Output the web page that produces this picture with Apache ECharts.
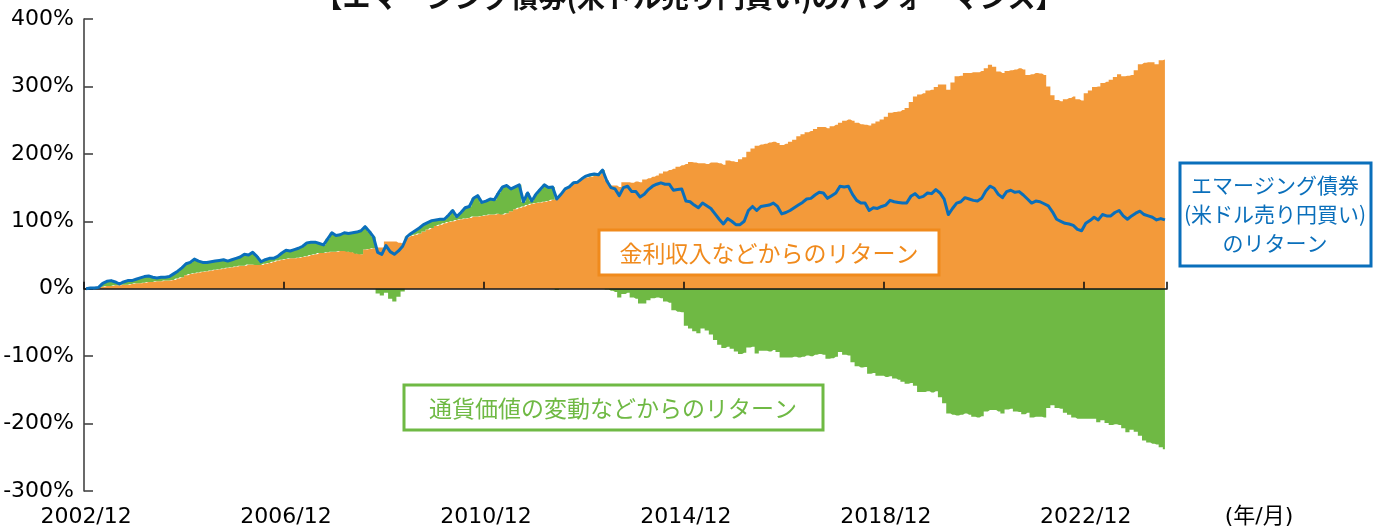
<!DOCTYPE html>
<html>
<head>
<meta charset="utf-8">
<script src="https://cdn.jsdelivr.net/npm/echarts@6/dist/echarts.min.js"></script>
<style>
  html, body { margin: 0; padding: 0; background: #fff; }
  #main { width: 1373px; height: 529px; }
</style>
</head>
<body>
<div id="main"></div>
<script>
// 月次 2002/12 ～ 2024/07
var startYear = 2002, startMonth = 12, monthCount = 260;
var months = [];
for (var i = 0; i < monthCount; i++) {
  var m = startMonth - 1 + i;
  months.push((startYear + Math.floor(m / 12)) + '/' + ((m % 12) + 1));
}
var tickLabels = ['2002/12', '2006/12', '2010/12', '2014/12', '2018/12', '2022/12'];

// 金利収入などからのリターン(%)
var interestReturn = [
  0, 0, 1, 2, 3, 4, 4, 5, 5, 6, 6, 7,
  8, 8, 9, 10, 10, 11, 11, 12, 12, 13, 15, 17,
  20, 22, 23, 24, 25, 26, 27, 28, 29, 30, 31, 32,
  33, 34, 34, 36, 36, 35, 35, 37, 38, 40, 42, 43,
  44, 45, 45, 46, 47, 48, 50, 51, 53, 53, 54, 55,
  55, 56, 56, 55, 54, 52, 51, 58, 59, 60, 61, 61,
  70, 70, 70, 68, 67, 76, 78, 80, 82, 85, 88, 90,
  93, 95, 97, 99, 100, 102, 103, 104, 105, 107, 107, 108,
  109, 110, 110, 111, 110, 112, 115, 118, 120, 122, 124, 126,
  127, 128, 129, 130, 132, 135, 140, 147, 151, 156, 158, 163,
  165, 166, 167, 167, 171, 161, 153, 153, 151, 158, 158, 157,
  159, 158, 162, 164, 166, 168, 171, 174, 176, 178, 181, 183,
  185, 188, 187, 186, 186, 185, 187, 187, 186, 184, 190, 189,
  188, 192, 195, 203, 208, 212, 214, 215, 217, 218, 216, 213,
  215, 218, 221, 226, 229, 232, 234, 237, 240, 240, 238, 241,
  243, 246, 249, 251, 249, 246, 244, 243, 242, 245, 248, 251,
  255, 261, 262, 263, 265, 268, 277, 285, 288, 290, 294, 295,
  299, 303, 303, 295, 306, 315, 316, 320, 320, 321, 321, 323,
  327, 332, 329, 322, 320, 323, 324, 325, 327, 325, 317, 318,
  320, 319, 317, 300, 287, 280, 278, 281, 283, 285, 281, 279,
  290, 294, 299, 300, 305, 307, 310, 314, 318, 315, 316, 317,
  324, 333, 335, 336, 336, 333, 339, 340
];

// 通貨価値の変動などからのリターン(%)
var currencyReturn = [
  0, 1, 0, 0, 5, 7, 8, 5, 2, 4, 6, 5,
  6, 8, 9, 9, 7, 5, 6, 5, 6, 9, 11, 14,
  17, 17, 21, 17, 14, 13, 13, 13, 13, 13, 10, 11,
  12, 13, 17, 14, 18, 13, 5, 6, 7, 5, 6, 10,
  13, 11, 13, 14, 16, 20, 19, 18, 14, 12, 20, 28,
  24, 24, 27, 27, 29, 32, 35, 34, 26, 17, -7, -10,
  -6, -15, -19, -12, -4, 1, 4, 6, 8, 10, 10, 11,
  9, 8, 6, 10, 16, 5, 10, 16, 17, 27, 31, 20,
  21, 23, 22, 31, 41, 41, 33, 33, 34, 7, 18, 4,
  13, 19, 25, 20, 19, -2, 0, 1, 0, 1, 0, 0,
  2, 3, 3, 2, 5, -1, -3, -5, -13, -8, -6, -13,
  -15, -22, -22, -17, -14, -13, -14, -19, -21, -32, -34, -35,
  -55, -59, -63, -66, -59, -62, -68, -76, -83, -88, -86, -89,
  -93, -97, -95, -87, -86, -96, -92, -92, -93, -91, -94, -102,
  -102, -102, -101, -102, -101, -99, -100, -98, -97, -98, -104, -103,
  -101, -94, -98, -99, -109, -115, -117, -116, -126, -125, -129, -129,
  -131, -130, -133, -135, -138, -141, -140, -144, -153, -153, -152, -154,
  -152, -161, -170, -185, -187, -188, -187, -185, -187, -190, -191, -189,
  -182, -180, -180, -182, -185, -179, -178, -182, -183, -186, -184, -191,
  -190, -190, -191, -177, -173, -177, -178, -184, -187, -191, -193, -193,
  -193, -193, -193, -198, -195, -199, -202, -201, -202, -207, -213, -209,
  -212, -218, -225, -228, -230, -231, -235, -238
];

// エマージング債券(米ドル売り円買い)のリターン(%)
var totalReturn = [
  0, 1, 1, 2, 8, 11, 12, 10, 7, 10, 12, 12,
  14, 16, 18, 19, 17, 16, 17, 17, 18, 22, 26, 31,
  37, 39, 44, 41, 39, 39, 40, 41, 42, 43, 41, 43,
  45, 47, 51, 50, 54, 48, 40, 43, 45, 45, 48, 53,
  57, 56, 58, 60, 63, 68, 69, 69, 67, 65, 74, 83,
  79, 80, 83, 82, 83, 84, 86, 92, 85, 77, 54, 51,
  64, 55, 51, 56, 63, 77, 82, 86, 90, 95, 98, 101,
  102, 103, 103, 109, 116, 107, 113, 120, 122, 134, 138, 128,
  130, 133, 132, 142, 151, 153, 148, 151, 154, 129, 142, 130,
  140, 147, 154, 150, 151, 133, 140, 148, 151, 157, 158, 163,
  167, 169, 170, 169, 176, 160, 150, 148, 138, 150, 152, 144,
  144, 136, 140, 147, 152, 155, 157, 155, 155, 146, 147, 148,
  130, 129, 124, 120, 127, 123, 119, 111, 103, 96, 104, 100,
  95, 95, 100, 116, 122, 116, 122, 123, 124, 127, 122, 111,
  113, 116, 120, 124, 128, 133, 134, 139, 143, 142, 134, 138,
  142, 152, 151, 152, 140, 131, 127, 127, 116, 120, 119, 122,
  124, 131, 129, 128, 127, 127, 137, 141, 135, 137, 142, 141,
  147, 142, 133, 110, 119, 127, 129, 135, 133, 131, 130, 134,
  145, 152, 149, 140, 135, 144, 146, 143, 144, 139, 133, 127,
  130, 129, 126, 123, 114, 103, 100, 97, 96, 94, 88, 86,
  97, 101, 106, 102, 110, 108, 108, 113, 116, 108, 103, 108,
  112, 115, 110, 108, 106, 102, 104, 102
];

var ORANGE = '#f39a3a', GREEN = '#6fb944', BLUE = '#0a6fbb';
var numFont = 'DejaVu Sans, Noto Sans CJK JP, sans-serif';
var jpFont = 'Noto Sans CJK JP, sans-serif';

function showTick(idx, val) { return tickLabels.indexOf(val) >= 0; }

// 棒の代わりに階段状の面で描く(棒の継ぎ目が出ないように)
function stepArea(name, data, color) {
  return {
    name: name, type: 'line', stack: 'ret', xAxisIndex: 0, step: 'middle',
    data: data, symbol: 'none', showSymbol: false, z: 2,
    lineStyle: { width: 0, opacity: 0 },
    areaStyle: { color: color, opacity: 1 },
    emphasis: { disabled: true }
  };
}

var chart = echarts.init(document.getElementById('main'));
chart.setOption({
  animation: false,
  backgroundColor: '#fff',
  grid: { left: 84, right: 206, top: 19, bottom: 38, containLabel: false },
  xAxis: [
    { // 下の目盛ラベル
      type: 'category', data: months, position: 'bottom', boundaryGap: true,
      axisLine: { show: false, onZero: false },
      axisTick: { show: false },
      axisLabel: { interval: showTick, color: '#000', fontSize: 22, fontFamily: numFont, margin: 15 },
      splitLine: { show: false }
    },
    { // 0%の横線
      type: 'category', data: months, position: 'top', boundaryGap: true, z: 3,
      axisLine: { show: true, onZero: true, lineStyle: { color: '#111', width: 1.6 } },
      axisTick: { show: true, interval: showTick, inside: false, length: 7, lineStyle: { color: '#111', width: 1.6 } },
      axisLabel: { show: false },
      splitLine: { show: false }
    }
  ],
  yAxis: {
    type: 'value', min: -300, max: 400, interval: 100,
    axisLine: { show: true, lineStyle: { color: '#444', width: 1.6 } },
    axisTick: { show: true, inside: true, length: 9, lineStyle: { color: '#444', width: 1.6 } },
    axisLabel: { formatter: '{value}%', color: '#000', fontSize: 22, fontFamily: numFont, margin: 10 },
    splitLine: { show: false }
  },
  series: [
    stepArea('金利収入などからのリターン', interestReturn, ORANGE),
    stepArea('通貨価値の変動などからのリターン', currencyReturn, GREEN),
    {
      name: 'エマージング債券(米ドル売り円買い)のリターン', type: 'line', xAxisIndex: 0,
      data: totalReturn, showSymbol: false, symbol: 'none', z: 5,
      lineStyle: { color: BLUE, width: 3, join: 'round' },
      emphasis: { disabled: true }
    }
  ],
  graphic: [
    { type: 'text', x: 689, y: -3, z: 100,
      style: { text: '【エマージング債券(米ドル売り円買い)のパフォーマンス】', fill: '#111',
        font: 'bold 28px ' + jpFont, align: 'center', verticalAlign: 'middle' } },
    { type: 'text', x: 1259, y: 517, z: 100,
      style: { text: '(年/月)', fill: '#000', font: '22px ' + numFont, align: 'center', verticalAlign: 'middle' } },

    { type: 'rect', z: 100, shape: { x: 599, y: 230, width: 340, height: 45 },
      style: { fill: '#fff', stroke: '#f08a1c', lineWidth: 3 } },
    { type: 'text', x: 769, y: 253, z: 101,
      style: { text: '金利収入などからのリターン', fill: '#f08a1c', font: '23px ' + jpFont, align: 'center', verticalAlign: 'middle' } },

    { type: 'rect', z: 100, shape: { x: 404, y: 385, width: 419, height: 45 },
      style: { fill: '#fff', stroke: GREEN, lineWidth: 3 } },
    { type: 'text', x: 613, y: 408, z: 101,
      style: { text: '通貨価値の変動などからのリターン', fill: GREEN, font: '23px ' + jpFont, align: 'center', verticalAlign: 'middle' } },

    { type: 'rect', z: 100, shape: { x: 1180, y: 163, width: 191, height: 103 },
      style: { fill: '#fff', stroke: BLUE, lineWidth: 3 } },
    { type: 'text', x: 1275, y: 214, z: 101,
      style: { text: 'エマージング債券\n(米ドル売り円買い)\nのリターン', fill: BLUE, font: '21px ' + jpFont,
        lineHeight: 29, align: 'center', verticalAlign: 'middle' } }
  ]
});
</script>
</body>
</html>
